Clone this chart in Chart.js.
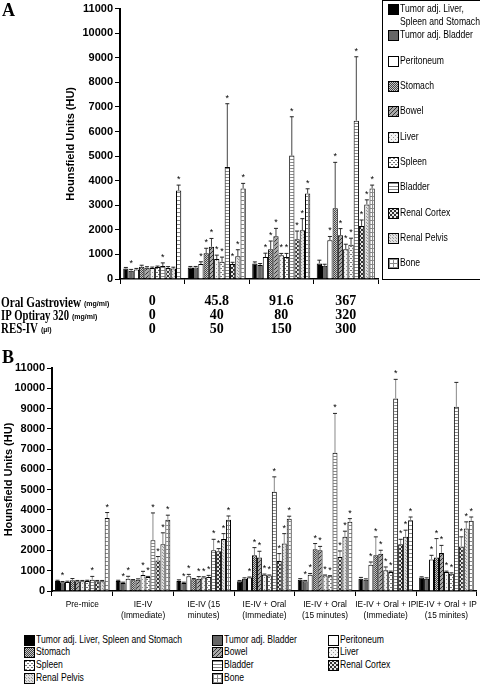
<!DOCTYPE html>
<html>
<head>
<meta charset="utf-8">
<script src="https://cdn.jsdelivr.net/npm/chart.js@4.4.1/dist/chart.umd.min.js"></script>
<style>
  body { margin: 0; width: 480px; height: 685px; position: relative; overflow: hidden; background: #fff; }
  canvas.chart { position: absolute; left: 0; }
  .letter { position: absolute; left: 2px; font: bold 18px 'Liberation Serif', serif; }
  #legendA { position: absolute; left: 382px; top: 0; width: 100px; height: 280px; border: 1px solid #000; box-sizing: border-box; }
  .item { position: absolute; font: 10.5px 'Liberation Sans', sans-serif; line-height: 13px; color: #000; white-space: nowrap; }
  .item canvas { position: absolute; left: 0; border: 1px solid #000; box-sizing: border-box; }
  .item span { position: absolute; left: 12px; top: 0; transform: scaleX(0.82); transform-origin: left top; }
</style>
</head>
<body>
<canvas id="chartA" class="chart" style="top:0" width="480" height="340"></canvas>
<canvas id="chartB" class="chart" style="top:345px" width="480" height="285"></canvas>
<div class="letter" style="top:0">A</div>
<div class="letter" style="top:347px">B</div>
<div id="legendA"></div>
<div id="legendB"></div>
<script>
// categories
const organs = ['Tumor adj. Liver, Spleen and Stomach', 'Tumor adj. Bladder', 'Peritoneum', 'Stomach', 'Bowel',
  'Liver', 'Spleen', 'Bladder', 'Renal Cortex', 'Renal Pelvis', 'Bone']
const groupsA = [['0', '0', '0'], ['45.8', '40', '50'], ['91.6', '80', '150'], ['367', '320', '300']]
const rowHeadsA = [['Oral Gastroview', '(mg/ml)'], ['IP Optiray 320', '(mg/ml)'], ['RES-IV', '(µl)']]
const groupsB = [['Pre-mice'], ['IE-IV', '(Immediate)'], ['IE-IV (15', 'minutes)'], ['IE-IV + Oral', '(Immediate)'],
  ['IE-IV + Oral', '(15 minutes)'], ['IE-IV + Oral + IP', '(Immediate)'], ['IE-IV + Oral + IP', '(15 minites)']]

// panel A : mean HU, one row per organ (same order as organs)
const meanA = [
  [430, 470, 635, 635],
  [340, 470, 570, 540],
  [390, 610, 890, 1580],
  [500, 1050, 1215, 2875],
  [460, 1310, 1740, 1780],
  [445, 810, 970, 1215],
  [485, 700, 890, 1390],
  [525, 4560, 5020, 6440],
  [445, 610, 1620, 2160],
  [430, 930, 1985, 3035],
  [3600, 3685, 3480, 3685]
]
const errA = [
  [40, 40, 60, 130],
  [50, 40, 60, 60],
  [40, 90, 160, 150],
  [60, 200, 330, 1870],
  [40, 340, 320, 270],
  [40, 160, 70, 200],
  [40, 190, 150, 270],
  [130, 2570, 1580, 2600],
  [60, 70, 330, 240],
  [50, 260, 470, 185],
  [220, 205, 190, 135]
]
// organs marked with * in each group
const starsA = [[1, 7, 10], [2, 3, 4, 5, 6, 7, 8, 9, 10], [2, 3, 4, 5, 6, 7, 8, 9, 10], [2, 3, 4, 5, 6, 7, 8, 9, 10]]

// panel B
const meanB = [
  [490, 490, 490, 480, 560, 610, 660],
  [430, 395, 395, 610, 480, 560, 610],
  [445, 610, 725, 660, 805, 1300, 1550],
  [525, 525, 575, 1760, 2060, 1760, 1650],
  [480, 560, 610, 1650, 2010, 1840, 1880],
  [480, 790, 660, 805, 760, 1020, 940],
  [490, 690, 690, 760, 725, 940, 855],
  [560, 2500, 2010, 4890, 6815, 9500, 9090],
  [480, 1500, 1960, 1480, 1680, 2300, 2200],
  [480, 2300, 2570, 2340, 2670, 2670, 3080],
  [3605, 3520, 3520, 3570, 3410, 3490, 3460]
]
const errB = [
  [40, 40, 60, 40, 50, 60, 40],
  [40, 40, 40, 40, 40, 40, 40],
  [40, 115, 95, 30, 60, 130, 210],
  [90, 40, 40, 380, 280, 910, 935],
  [40, 40, 100, 310, 190, 170, 370],
  [40, 180, 40, 30, 30, 165, 40],
  [40, 30, 80, 30, 30, 40, 40],
  [160, 1350, 540, 740, 1945, 940, 1200],
  [40, 200, 130, 365, 295, 250, 470],
  [40, 570, 260, 490, 280, 330, 330],
  [265, 220, 180, 120, 160, 160, 190]
]
const starsB = [[1, 7, 10], [1, 2, 5, 6, 7, 8, 9, 10], [1, 2, 4, 5, 6, 7, 8, 9, 10], [2, 3, 4, 5, 6, 7, 8, 9, 10],
  [1, 2, 3, 4, 5, 6, 7, 8, 9, 10], [2, 3, 4, 5, 6, 7, 8, 9, 10], [2, 3, 4, 5, 6, 8, 9, 10]]

// motifs des barres (petits canvas répétés)
function motif(size, bg, fg, pts) {
  const c = document.createElement('canvas')
  c.width = size; c.height = size
  const g = c.getContext('2d')
  g.fillStyle = bg; g.fillRect(0, 0, size, size)
  g.fillStyle = fg
  pts.forEach(p => g.fillRect(p[0], p[1], 1, 1))
  return g.createPattern(c, 'repeat')
}
const fills = [
  '#000',
  '#666',
  '#fff',
  motif(2, '#c8c8c8', '#444', [[0, 0], [1, 1]]),
  motif(4, '#a8a8a8', '#333', [[0, 3], [1, 2], [2, 1], [3, 0]]),
  motif(4, '#f2f2f2', '#999', [[0, 0], [2, 2]]),
  motif(4, '#fff', '#777', [[0, 0], [1, 0], [2, 2], [3, 2]]),
  motif(3, '#fff', '#888', [[0, 0], [1, 0], [2, 0]]),
  motif(4, '#e8e8e8', '#333', [[0, 0], [1, 1], [2, 2], [3, 3], [0, 3], [1, 2], [2, 1], [3, 0]]),
  motif(3, '#e0e0e0', '#999', [[0, 0], [1, 1]]),
  motif(4, '#fff', '#888', [[0, 0], [1, 0], [2, 0], [3, 0], [0, 1], [0, 2], [0, 3]])
]

const errorBars = {
  id: 'errorBars',
  afterDatasetsDraw(chart, args, opts) {
    const ctx = chart.ctx
    const y = chart.scales.y
    ctx.save()
    ctx.font = '9px Liberation Sans'
    ctx.textAlign = 'center'
    ctx.fillStyle = '#000'
    chart.data.datasets.forEach((ds, i) => {
      chart.getDatasetMeta(i).data.forEach((bar, j) => {
        const top = y.getPixelForValue(ds.data[j] + ds.err[j])
        ctx.strokeStyle = opts.color
        ctx.lineWidth = 1
        ctx.beginPath()
        ctx.moveTo(bar.x, bar.y)
        ctx.lineTo(bar.x, top)
        ctx.stroke()
        ctx.strokeStyle = '#222'
        ctx.beginPath()
        ctx.moveTo(bar.x - 2, top)
        ctx.lineTo(bar.x + 2, top)
        ctx.stroke()
        if (opts.stars[j].includes(i)) ctx.fillText('*', bar.x, top - 3)
      })
    })
    ctx.restore()
  }
}

const rowHeads = {
  id: 'rowHeads',
  afterDraw(chart) {
    const ctx = chart.ctx
    const b = chart.chartArea.bottom
    const w = [80, 68, 37]
    ctx.save()
    ctx.fillStyle = '#000'
    ctx.textBaseline = 'middle'
    rowHeadsA.forEach((r, k) => {
      const yy = b + 24 + k * 13
      ctx.font = "bold 15px 'Liberation Serif'"
      ctx.fillText(r[0], 1, yy, w[k])
      ctx.font = "bold 7px 'Liberation Sans'"
      ctx.fillText(r[1], w[k] + 4, yy + 1)
    })
    ctx.restore()
  }
}

function buildChart(id, labels, mean, err, stars, box) {
  const datasets = organs.map((name, i) => ({
    label: name,
    data: mean[i],
    err: err[i],
    backgroundColor: fills[i],
    borderColor: '#000',
    borderWidth: 1,
    categoryPercentage: 0.9,
    barPercentage: 1
  }))
  return new Chart(document.getElementById(id), {
    type: 'bar',
    data: { labels: labels, datasets: datasets },
    options: {
      responsive: false,
      animation: false,
      layout: { padding: { top: box.top, right: box.right, left: 0, bottom: 0 } },
      plugins: {
        legend: { display: false },
        tooltip: { enabled: false },
        errorBars: { color: box.errColor, stars: stars }
      },
      scales: {
        x: {
          afterFit: s => { s.height = box.xh },
          border: { color: '#000', width: 1.5 },
          grid: { drawOnChartArea: false, tickLength: 5, color: '#000', offset: true },
          ticks: { color: '#000', font: box.xfont, padding: box.xpad, maxRotation: 0, autoSkip: false }
        },
        y: {
          min: 0,
          max: 11000,
          afterFit: s => { s.width = box.yw },
          border: { color: '#000', width: 2 },
          grid: { drawOnChartArea: false, tickLength: 5, color: '#000' },
          ticks: {
            stepSize: 1000,
            color: '#000',
            padding: 2,
            callback: v => String(v),
            font: { family: 'Liberation Sans', size: 11, weight: 'bold' }
          },
          title: {
            display: true,
            text: 'Hounsfield Units (HU)',
            color: '#000',
            padding: { top: box.tpad, bottom: 0 },
            font: { family: 'Liberation Sans', size: 11, weight: 'bold' }
          }
        }
      }
    },
    plugins: box.extra
  })
}

buildChart('chartA', groupsA, meanA, errA, starsA, {
  top: 7, right: 102, xh: 61, yw: 120, tpad: 64, errColor: '#444', xpad: 10,
  xfont: { family: 'Liberation Serif', size: 14, weight: 'bold', lineHeight: 1 },
  extra: [errorBars, rowHeads]
})
buildChart('chartB', groupsB, meanB, errB, starsB, {
  top: 23, right: 2, xh: 39, yw: 52, tpad: 2, errColor: '#888', xpad: 3,
  xfont: { family: 'Liberation Sans', size: 8.3, lineHeight: 1.35 },
  extra: [errorBars]
})

// légendes HTML
function swatch(i) {
  const c = document.createElement('canvas')
  c.width = 9; c.height = 9
  const g = c.getContext('2d')
  g.fillStyle = fills[i]
  g.fillRect(0, 0, 9, 9)
  return c
}
function addItem(parent, i, x, y, text) {
  const d = document.createElement('div')
  d.className = 'item'
  d.style.left = x + 'px'
  d.style.top = y + 'px'
  const c = swatch(i)
  c.style.top = '2px'
  d.appendChild(c)
  const s = document.createElement('span')
  s.innerHTML = text
  d.appendChild(s)
  parent.appendChild(d)
}
const legA = document.getElementById('legendA')
const rowsA = [1, 27, 53, 78, 103, 129, 154, 179, 205, 230, 255]
organs.forEach((name, i) => {
  const t = i === 0 ? 'Tumor adj. Liver,<br>Spleen and Stomach' : name
  addItem(legA, i, 5, rowsA[i], t)
})
const legB = document.getElementById('legendB')
const colsB = [24, 212, 328]
const rowsB = [633, 645, 658, 671]
organs.forEach((name, i) => {
  addItem(legB, i, colsB[i % 3], rowsB[Math.floor(i / 3)], name)
})
</script>
</body>
</html>
